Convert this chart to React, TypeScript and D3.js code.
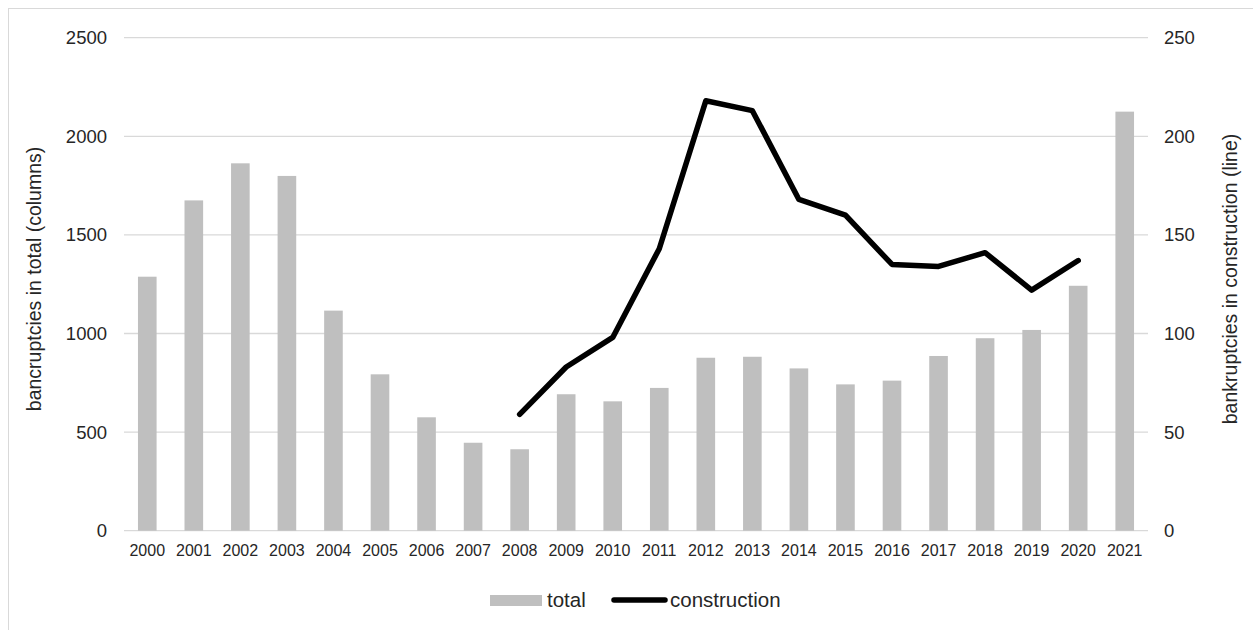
import React from "react";
import * as d3 from "d3";

const years = ["2000","2001","2002","2003","2004","2005","2006","2007","2008","2009","2010","2011","2012","2013","2014","2015","2016","2017","2018","2019","2020","2021"];
const totalValues = [1288,1675,1863,1799,1116,793,575,446,413,692,656,724,877,882,823,742,761,886,976,1018,1242,2125];
const constructionValues: (number | null)[] = [null,null,null,null,null,null,null,null,59,83,98,143,218,213,168,160,135,134,141,122,137,null];
const leftTicks = [0,500,1000,1500,2000,2500];
const rightTicks = [0,50,100,150,200,250];
const leftTitle = "bancruptcies in total (columns)";
const rightTitle = "bankruptcies in construction (line)";
const legendLabels = ["total", "construction"];

const W = 1253, H = 630;
const plot = { left: 124, right: 1148, top: 37.7, bottom: 530.7 };
const FONT = "Arial, 'Liberation Sans', sans-serif";
const TEXT = "#262626";

export default function App() {
  const x = d3.scaleBand<string>().domain(years).range([plot.left, plot.right]).paddingInner(0.6).paddingOuter(0.3);
  const yL = d3.scaleLinear().domain([0, 2500]).range([plot.bottom, plot.top]);
  const yR = d3.scaleLinear().domain([0, 250]).range([plot.bottom, plot.top]);
  const cx = (y: string) => (x(y) as number) + x.bandwidth() / 2;

  const line = d3.line<number | null>()
    .defined((d) => d !== null)
    .x((_, i) => cx(years[i]))
    .y((d) => yR(d as number));

  const midY = 279;

  return (
    <svg width={W} height={H} style={{ position: "absolute", left: 0, top: 0, display: "block" }} fontFamily={FONT}>
      <rect x={0} y={0} width={W} height={H} fill="#fff" />
      <rect x={8.5} y={8.5} width={1400} height={800} fill="none" stroke="#d9d9d9" strokeWidth={1} />
      {leftTicks.map((t) => (
        <line key={t} x1={plot.left} x2={plot.right} y1={yL(t)} y2={yL(t)} stroke="#d9d9d9" strokeWidth={1.3} />
      ))}
      {years.map((yr, i) => (
        <rect key={yr} x={x(yr)} y={yL(totalValues[i])} width={x.bandwidth()} height={yL(0) - yL(totalValues[i])} fill="#bfbfbf" />
      ))}
      <path d={line(constructionValues) || ""} fill="none" stroke="#000" strokeWidth={5.5} strokeLinejoin="round" strokeLinecap="round" />
      {leftTicks.map((t) => (
        <text key={t} x={107} y={yL(t)} dy="0.35em" textAnchor="end" fontSize={18.5} fill={TEXT}>{t}</text>
      ))}
      {rightTicks.map((t) => (
        <text key={t} x={1164} y={yR(t)} dy="0.35em" textAnchor="start" fontSize={18.5} fill={TEXT}>{t}</text>
      ))}
      {years.map((yr) => (
        <text key={yr} x={cx(yr)} y={556} textAnchor="middle" fontSize={16} fill={TEXT}>{yr}</text>
      ))}
      <text transform={`translate(41,${midY}) rotate(-90)`} textAnchor="middle" fontSize={19.5} fill={TEXT}>{leftTitle}</text>
      <text transform={`translate(1237,${midY}) rotate(-90)`} textAnchor="middle" fontSize={19.5} fill={TEXT}>{rightTitle}</text>
      <rect x={490} y={595} width={52} height={11} fill="#bfbfbf" />
      <text x={547} y={607} fontSize={20.5} fill={TEXT}>{legendLabels[0]}</text>
      <line x1={614} x2={665} y1={600} y2={600} stroke="#000" strokeWidth={5.5} strokeLinecap="round" />
      <text x={670} y={607} fontSize={20.5} fill={TEXT}>{legendLabels[1]}</text>
    </svg>
  );
}
